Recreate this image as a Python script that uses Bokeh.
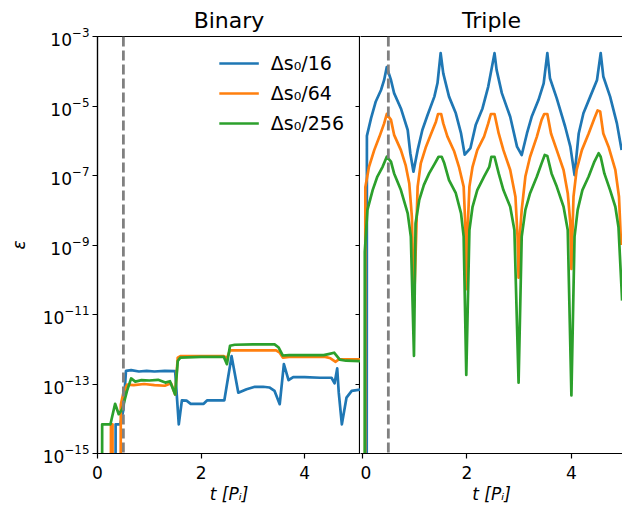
from bokeh.plotting import figure
from bokeh.layouts import row
from bokeh.models import (Range1d, FixedTicker, LogAxis, LinearAxis, Span, Legend, LegendItem,
                          CustomJSTickFormatter)
from bokeh.embed import file_html
from bokeh.resources import INLINE

FONT = "DejaVu Sans"
Z = -30.0  # log10 used for exact zeros (lies far below the axis)

series_labels = ["Δs₀/16", "Δs₀/64", "Δs₀/256"]
series_colors = ["#1f77b4", "#ff7f0e", "#2ca02c"]
panel_titles = ["Binary", "Triple"]
y_ticks = [1e-15, 1e-13, 1e-11, 1e-9, 1e-7, 1e-5, 1e-3]
x_ticks = [0, 2, 4]
marker_t = 0.5

# (t [P_i], log10 eps)
binary_16 = [(0.0, Z), (0.34, Z), (0.35, -14.16), (0.44, -14.16), (0.50, -13.75), (0.55, -12.62),
             (0.65, -12.60), (0.80, -12.64), (0.95, -12.62), (1.10, -12.64), (1.30, -12.62),
             (1.50, -12.63), (1.57, -14.16), (1.63, -13.47), (1.72, -13.48), (1.80, -13.57),
             (2.05, -13.57), (2.12, -13.47), (2.45, -13.47), (2.59, -12.20), (2.72, -13.25),
             (2.88, -13.15), (3.04, -13.08), (3.20, -13.08), (3.32, -13.10), (3.42, -13.20),
             (3.52, -13.58), (3.60, -12.43), (3.69, -12.89), (3.78, -12.80), (4.00, -12.80),
             (4.30, -12.82), (4.52, -12.82), (4.58, -12.98), (4.63, -12.55), (4.66, -13.25),
             (4.72, -14.16), (4.81, -13.39), (4.91, -13.20), (5.08, -13.16)]
binary_64 = [(0.0, Z), (0.25, Z), (0.26, -14.16), (0.29, -14.16), (0.30, Z), (0.43, Z),
             (0.45, -13.60), (0.50, -13.25), (0.57, -13.02), (0.70, -13.03), (0.90, -13.00),
             (1.10, -13.03), (1.30, -13.05), (1.42, -12.98), (1.50, -13.30), (1.55, -12.24),
             (1.60, -12.20), (2.00, -12.20), (2.44, -12.20), (2.50, -12.25), (2.56, -12.03),
             (3.00, -12.03), (3.45, -12.03), (3.52, -12.10), (3.58, -12.24), (3.70, -12.22),
             (4.40, -12.22), (4.50, -12.26), (4.60, -12.36), (4.66, -12.29), (5.08, -12.29)]
binary_256 = [(0.0, Z), (0.08, Z), (0.09, -14.16), (0.25, -14.16), (0.34, -13.57), (0.41, -13.87),
              (0.48, -13.72), (0.57, -13.20), (0.65, -12.84), (0.73, -12.93), (0.85, -12.89),
              (1.00, -12.90), (1.17, -12.88), (1.31, -12.96), (1.40, -12.92), (1.50, -13.30),
              (1.55, -12.34), (1.60, -12.24), (2.00, -12.22), (2.44, -12.22), (2.50, -12.43),
              (2.56, -11.90), (2.65, -11.87), (3.00, -11.86), (3.42, -11.86), (3.50, -11.95),
              (3.58, -12.18), (3.70, -12.17), (4.37, -12.17), (4.46, -12.14), (4.57, -12.10),
              (4.68, -12.30), (4.80, -12.33), (5.08, -12.34)]

triple_16 = [(0.0, Z), (0.08, Z), (0.09, -5.86), (0.17, -5.35), (0.26, -4.87), (0.36, -4.54),
             (0.42, -4.25), (0.47, -3.88), (0.55, -4.25), (0.61, -4.63), (0.74, -5.07),
             (0.87, -5.69), (0.92, -6.36), (0.98, -6.89), (1.06, -6.27), (1.15, -5.69),
             (1.25, -5.26), (1.38, -4.73), (1.44, -4.34), (1.50, -3.48), (1.55, -4.06),
             (1.66, -4.73), (1.79, -5.21), (1.89, -5.79), (1.96, -6.40), (2.07, -6.21),
             (2.17, -5.55), (2.30, -5.07), (2.41, -4.44), (2.53, -3.48), (2.57, -3.96),
             (2.67, -4.63), (2.83, -5.31), (2.96, -6.17), (3.05, -6.41), (3.15, -5.79),
             (3.24, -5.31), (3.37, -4.83), (3.47, -4.35), (3.54, -3.48), (3.59, -4.20),
             (3.72, -4.78), (3.88, -5.59), (3.98, -6.17), (4.06, -6.99), (4.14, -5.79),
             (4.23, -5.21), (4.36, -4.73), (4.49, -4.25), (4.56, -3.48), (4.61, -4.15),
             (4.74, -4.73), (4.87, -5.50), (4.96, -6.27)]
triple_64 = [(0.0, Z), (0.05, Z), (0.06, -7.34), (0.13, -6.75), (0.23, -6.27), (0.33, -5.88),
             (0.42, -5.50), (0.47, -5.23), (0.55, -5.40), (0.61, -5.83), (0.74, -6.27),
             (0.83, -6.70), (0.90, -7.23), (0.95, -8.19), (0.99, -10.80), (1.06, -7.32),
             (1.12, -6.65), (1.22, -6.17), (1.31, -5.83), (1.41, -5.45), (1.45, -5.23),
             (1.51, -5.23), (1.55, -5.50), (1.63, -5.88), (1.76, -6.31), (1.85, -6.75),
             (1.94, -7.32), (1.97, -8.38), (1.99, -10.27), (2.02, -8.40), (2.05, -7.32),
             (2.11, -6.75), (2.20, -6.27), (2.33, -5.88), (2.41, -5.50), (2.46, -5.23),
             (2.53, -5.23), (2.61, -5.79), (2.70, -6.27), (2.83, -6.84), (2.93, -7.61),
             (2.97, -8.76), (2.99, -9.94), (3.02, -8.60), (3.05, -7.99), (3.12, -7.03),
             (3.21, -6.46), (3.34, -5.88), (3.43, -5.40), (3.48, -5.23), (3.54, -5.23),
             (3.61, -5.79), (3.72, -6.27), (3.85, -6.84), (3.93, -7.51), (3.98, -8.38),
             (4.00, -9.69), (4.04, -7.61), (4.10, -6.84), (4.20, -6.27), (4.33, -5.79),
             (4.44, -5.35), (4.50, -5.13), (4.55, -5.16), (4.61, -5.79), (4.71, -6.17),
             (4.84, -6.84), (4.91, -7.61), (4.95, -9.00)]
triple_256 = [(0.0, Z), (0.045, Z), (0.05, -9.20), (0.10, -7.99), (0.20, -7.42), (0.29, -7.03),
              (0.39, -6.75), (0.47, -6.46), (0.55, -6.60), (0.61, -6.94), (0.74, -7.42),
              (0.87, -8.09), (0.93, -8.76), (0.99, -12.19), (1.02, -8.38), (1.09, -7.71),
              (1.18, -7.27), (1.28, -6.94), (1.39, -6.65), (1.46, -6.46), (1.52, -6.46),
              (1.57, -6.65), (1.66, -7.13), (1.79, -7.51), (1.89, -8.09), (1.94, -8.76),
              (1.99, -12.74), (2.05, -8.57), (2.11, -7.90), (2.20, -7.42), (2.33, -7.03),
              (2.43, -6.75), (2.47, -6.46), (2.53, -6.46), (2.61, -6.94), (2.70, -7.42),
              (2.83, -7.90), (2.91, -8.57), (2.99, -12.96), (3.05, -8.76), (3.12, -7.99),
              (3.21, -7.51), (3.34, -7.03), (3.43, -6.65), (3.49, -6.41), (3.54, -6.44),
              (3.62, -6.94), (3.72, -7.32), (3.85, -7.90), (3.93, -8.57), (4.00, -13.33),
              (4.06, -8.76), (4.12, -7.99), (4.21, -7.42), (4.33, -7.03), (4.44, -6.60),
              (4.52, -6.36), (4.56, -6.46), (4.63, -6.94), (4.74, -7.42), (4.84, -7.90),
              (4.90, -8.48), (4.97, -10.60)]

binary_series = [binary_16, binary_64, binary_256]
triple_series = [triple_16, triple_64, triple_256]

y_range = Range1d(1e-15, 1e-3)


def make_panel(title, x_range, frame_width, left_axis):
    p = figure(frame_width=frame_width, frame_height=417, x_range=x_range, y_range=y_range,
               y_axis_type="log", y_axis_location="left" if left_axis else None,
               output_backend="svg", toolbar_location=None, title=title,
               min_border_left=97 if left_axis else 0, min_border_right=0,
               min_border_top=36, min_border_bottom=58)
    p.title.text_font = FONT
    p.title.text_font_size = "22px"
    p.title.text_font_style = "normal"
    p.title.text_color = "black"
    p.title.align = "center"
    p.title.standoff = 7
    p.outline_line_color = "black" if left_axis else None
    p.outline_line_width = 1.2
    p.outline_line_alpha = 1
    p.xgrid.visible = False
    p.ygrid.visible = False
    p.background_fill_color = "white"
    p.border_fill_color = "white"
    xa = p.xaxis[0]
    xa.ticker = FixedTicker(ticks=x_ticks)
    xa.axis_label = "t [Pᵢ]"
    xa.axis_label_text_font = FONT
    xa.axis_label_text_font_size = "17px"
    xa.axis_label_text_font_style = "italic"
    xa.axis_label_text_color = "black"
    xa.axis_label_standoff = 2
    xa.major_label_text_font = FONT
    xa.major_label_text_font_size = "17px"
    xa.major_label_text_color = "black"
    xa.major_label_standoff = 7
    xa.major_tick_out = 5
    xa.major_tick_in = 0
    xa.axis_line_color = "black"
    xa.axis_line_width = 1.2
    xa.major_tick_line_width = 1.2
    xa.major_tick_line_color = "black"
    if left_axis:
        ya = p.yaxis[0]
        ya.ticker = FixedTicker(ticks=y_ticks)
        ya.axis_label = "ε"
        ya.axis_label_text_font = FONT
        ya.axis_label_text_font_size = "17px"
        ya.axis_label_text_font_style = "italic"
        ya.axis_label_text_color = "black"
        ya.axis_label_standoff = 11
        ya.major_label_text_font = FONT
        ya.major_label_text_font_size = "17px"
        ya.major_label_text_color = "black"
        ya.major_label_standoff = 3
        ya.major_tick_out = 5
        ya.major_tick_in = 0
        ya.axis_line_color = "black"
        ya.axis_line_width = 1.2
        ya.major_tick_line_width = 1.2
        ya.major_tick_line_color = "black"
    else:
        # top spine of the right panel (its left spine is the left panel's frame edge)
        top = LinearAxis(ticker=FixedTicker(ticks=[]),
                         formatter=CustomJSTickFormatter(code="return ''"),
                         major_tick_in=0, major_tick_out=0, minor_tick_in=0, minor_tick_out=0,
                         major_label_standoff=0, major_label_text_font_size="0px",
                         axis_line_color="black", axis_line_width=1.2)
        p.add_layout(top, "above")
    return p


p1 = make_panel(panel_titles[0], Range1d(0, 5.08), 263, True)
p2 = make_panel(panel_titles[1], Range1d(-0.0325, 4.977), 262, False)

# ticks of the right panel's left spine, pointing into the left panel
inner = LogAxis(ticker=FixedTicker(ticks=y_ticks),
                formatter=CustomJSTickFormatter(code="return ''"),
                major_tick_in=5, major_tick_out=0, minor_tick_in=0, minor_tick_out=0,
                major_label_standoff=0, major_label_text_font_size="0px",
                axis_line_color=None, major_tick_line_width=1.2, major_tick_line_color="black")
p1.add_layout(inner, "right")

items = []
for p, data in ((p1, binary_series), (p2, triple_series)):
    for k, ser in enumerate(data):
        ts = [a for a, b in ser]
        es = [10.0 ** b for a, b in ser]
        r = p.line(ts, es, line_color=series_colors[k], line_width=2.7, line_join="round")
        if p is p1:
            items.append(LegendItem(label=series_labels[k], renderers=[r]))
    p.add_layout(Span(location=marker_t, dimension="height", line_color="gray",
                      line_dash="10 4", line_width=2.8))

legend = Legend(items=items, location="top_right", border_line_alpha=0,
                background_fill_alpha=0, label_text_font=FONT, label_text_font_size="19px",
                label_text_color="black",
                glyph_width=40, glyph_height=20, label_height=20, spacing=8,
                padding=10, margin=6, label_standoff=12)
p1.add_layout(legend)

layout = row(p1, p2)
open("out.html", "w").write(file_html(layout, INLINE))
